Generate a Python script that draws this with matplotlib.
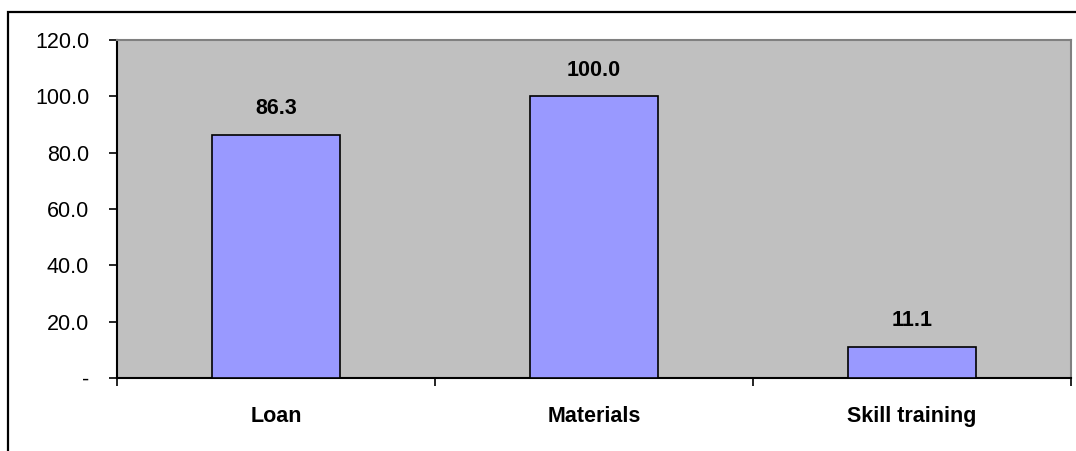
import matplotlib
matplotlib.use("Agg")
import matplotlib.pyplot as plt
from matplotlib.patches import Rectangle

categories = ["Loan", "Materials", "Skill training"]
values = [86.3, 100.0, 11.1]
yticks = [0, 20, 40, 60, 80, 100, 120]
ytick_labels = ["-", "20.0", "40.0", "60.0", "80.0", "100.0", "120.0"]

plt.rcParams['font.family'] = ['Liberation Sans', 'DejaVu Sans']

W, H = 1076, 451
fig = plt.figure(figsize=(W/100, H/100), dpi=100)
fig.patch.set_facecolor('white')

# outer frame
fig.patches.append(Rectangle((8/W, -0.2), 2.0, 1 - 12/H + 0.2, transform=fig.transFigure,
                             fill=False, edgecolor='black', linewidth=1.6, zorder=0))

ax = fig.add_axes([117/W, (H-378)/H, (1071-117)/W, (378-40)/H])
ax.set_facecolor('#C0C0C0')
x = list(range(len(categories)))
bars = ax.bar(x, values, width=0.405, color='#9999FF', edgecolor='black', linewidth=1.2, zorder=3)
ax.set_xlim(-0.5, len(categories) - 0.5)
ax.set_ylim(0, 120)
ax.set_yticks(yticks)
ax.set_yticklabels(ytick_labels, fontsize=15.5)
ax.set_xticks([i - 0.5 for i in range(len(categories) + 1)])
ax.set_xticklabels([])
ax.set_xticks(x, minor=True)
ax.set_xticklabels(categories, minor=True, fontsize=15.5, fontweight='bold')
ax.tick_params(axis='x', which='minor', length=0, pad=20)
ax.tick_params(axis='x', which='major', length=6, width=1.2, direction='out', color='black')
ax.tick_params(axis='y', length=6, width=1.2, direction='out', pad=14)

for s in ['top', 'right']:
    ax.spines[s].set_color('#808080')
    ax.spines[s].set_linewidth(1.5)
for s in ['left', 'bottom']:
    ax.spines[s].set_color('black')
    ax.spines[s].set_linewidth(1.5)

for b, v in zip(bars, values):
    ax.annotate(f"{v:.1f}", (b.get_x() + b.get_width()/2, v), xytext=(0, 26),
                textcoords='offset pixels', ha='center', va='center',
                fontsize=15.5, fontweight='bold')

fig.savefig('out.png', dpi=100)
